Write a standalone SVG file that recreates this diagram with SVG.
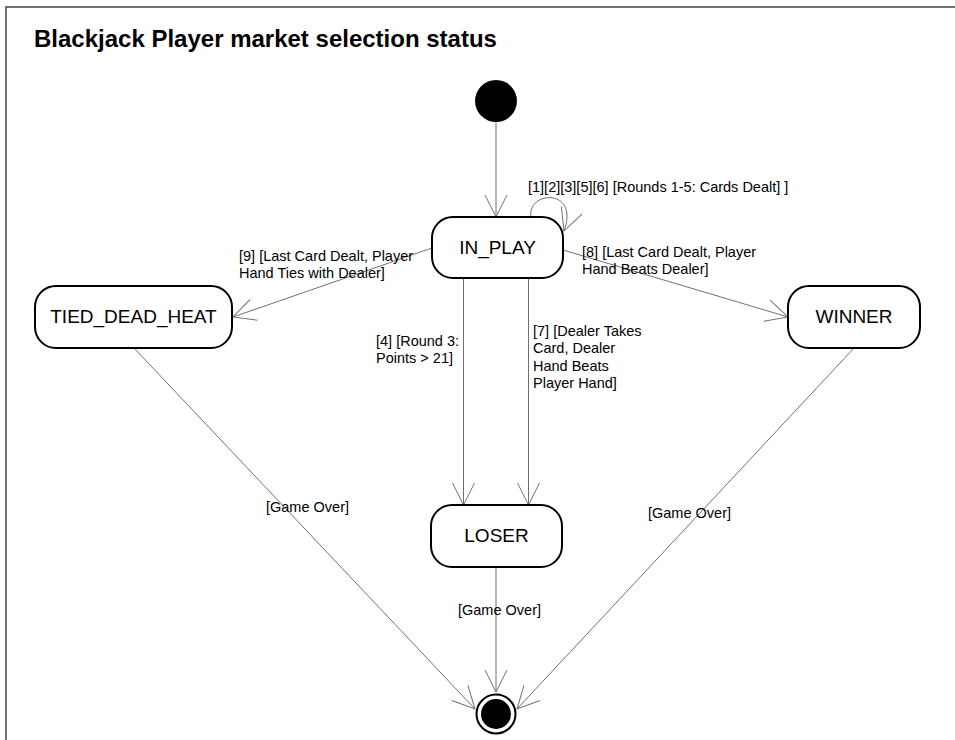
<svg xmlns="http://www.w3.org/2000/svg" width="955" height="740" viewBox="0 0 955 740">
<defs>
<marker id="open" markerUnits="userSpaceOnUse" markerWidth="30" markerHeight="30" viewBox="-26 -15 30 30" refX="0" refY="0" orient="auto" overflow="visible">
<path d="M-22,-11 L0,0 L-22,11" fill="none" stroke="#707070" stroke-width="1"/>
</marker>
</defs>
<style>
.frame{fill:none;stroke:#444;stroke-width:1.5}
.title{font-family:"Liberation Sans",Arial,sans-serif;font-size:24px;font-weight:bold;fill:#000}
.node rect{fill:#fff;stroke:#000;stroke-width:2}
.nlabel{font-family:"Liberation Sans",Arial,sans-serif;font-size:19px;fill:#000;text-anchor:middle}
.conn{fill:none;stroke:#707070;stroke-width:1;marker-end:url(#open)}
.lbl{font-family:"Liberation Sans",Arial,sans-serif;font-size:14.5px;fill:#000}
</style>
<rect width="955" height="740" fill="#fff"/>
<path class="frame" d="M6,740 L6,7 L955,7"/>
<text class="title" x="34" y="47">Blackjack Player market selection status</text>

<g id="connectors">
<line class="conn" x1="496" y1="122" x2="496" y2="217"/>
<path class="conn" d="M531,217 C527,190 580,188 564,231"/>
<line class="conn" x1="432" y1="248" x2="233" y2="317"/>
<line class="conn" x1="563" y1="250" x2="788" y2="317"/>
<line class="conn" x1="463.5" y1="278" x2="463.5" y2="505"/>
<line class="conn" x1="528.5" y1="278" x2="528.5" y2="505"/>
<line class="conn" x1="134" y1="348" x2="475" y2="709"/>
<line class="conn" x1="496" y1="567" x2="496" y2="692"/>
<line class="conn" x1="854" y1="348" x2="517" y2="709"/>
<text class="lbl" x="528" y="192">[1][2][3][5][6] [Rounds 1-5: Cards Dealt] ]</text>
<text class="lbl" x="239" y="261">[9] [Last Card Dealt, Player</text>
<text class="lbl" x="239" y="278">Hand Ties with Dealer]</text>
<text class="lbl" x="582" y="257">[8] [Last Card Dealt, Player</text>
<text class="lbl" x="582" y="274">Hand Beats Dealer]</text>
<text class="lbl" x="376" y="346">[4] [Round 3:</text>
<text class="lbl" x="376" y="363">Points &gt; 21]</text>
<text class="lbl" x="533" y="336">[7] [Dealer Takes</text>
<text class="lbl" x="533" y="353">Card, Dealer</text>
<text class="lbl" x="533" y="371">Hand Beats</text>
<text class="lbl" x="533" y="388">Player Hand]</text>
<text class="lbl" x="266" y="512">[Game Over]</text>
<text class="lbl" x="458" y="615">[Game Over]</text>
<text class="lbl" x="648" y="518">[Game Over]</text>
</g>

<g id="initial">
<circle cx="496" cy="101" r="21" fill="#000"/>
</g>
<g id="in_play" class="node">
<rect x="432" y="217" width="131" height="61" rx="21" ry="21"/>
<text class="nlabel" x="497.5" y="254">IN_PLAY</text>
</g>
<g id="tied_dead_heat" class="node">
<rect x="35" y="286" width="197" height="62" rx="21" ry="21"/>
<text class="nlabel" x="133.5" y="323">TIED_DEAD_HEAT</text>
</g>
<g id="winner" class="node">
<rect x="788" y="286" width="132" height="62" rx="21" ry="21"/>
<text class="nlabel" x="854" y="323">WINNER</text>
</g>
<g id="loser" class="node">
<rect x="431" y="505" width="131" height="62" rx="21" ry="21"/>
<text class="nlabel" x="496.5" y="542">LOSER</text>
</g>
<g id="final">
<circle cx="496" cy="714" r="19.5" fill="#fff" stroke="#000" stroke-width="2"/>
<circle cx="496" cy="714" r="15" fill="#000"/>
</g>
</svg>
